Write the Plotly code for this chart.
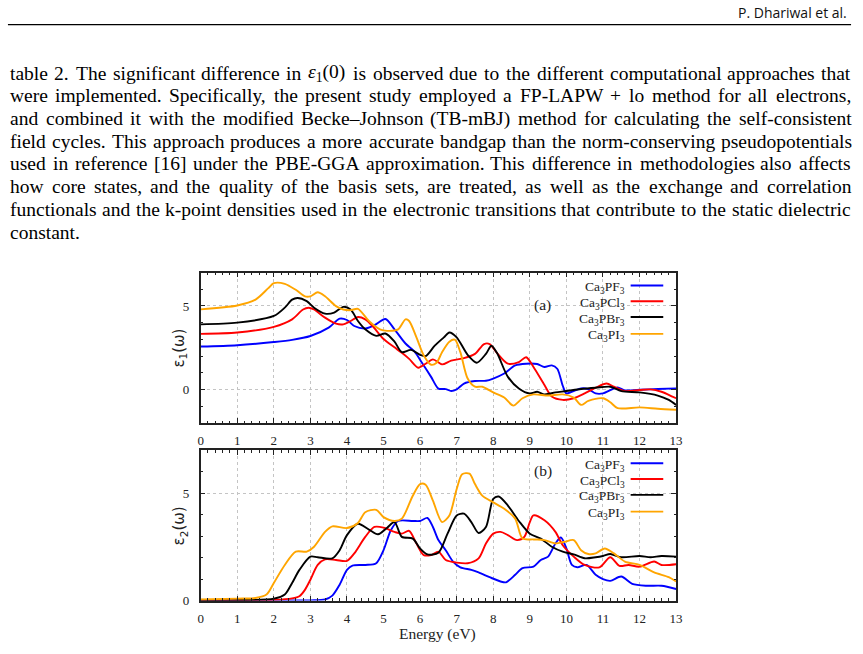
import plotly.graph_objects as go

FIG_W, FIG_H = 863, 654


def px(x):
    return x / FIG_W


def py(y):
    return 1 - y / FIG_H


# ---------------- data: epsilon_1 (panel a) ----------------
e1_E_PF3 = [0, 1, 2, 2.5, 3, 3.5, 3.8, 4.0, 4.2, 4.5, 4.75, 5.05, 5.3, 5.6, 5.85, 6.05, 6.3, 6.5, 6.7,
            6.85, 7.0, 7.2, 7.5, 7.8, 8.0, 8.3, 8.6, 8.9, 9.2, 9.4, 9.6, 9.75, 9.9, 10.0, 10.2, 10.4,
            10.6, 10.8, 11.0, 11.2, 11.4, 11.6, 12.0, 12.5, 13.0]
e1_PF3 = [2.57, 2.65, 2.84, 2.97, 3.2, 3.7, 4.24, 4.16, 3.8, 3.65, 3.85, 4.22, 3.6, 2.75, 2.27, 1.6,
          0.75, 0.05, 0.02, -0.1, 0.0, 0.35, 0.5, 0.52, 0.65, 0.95, 1.44, 1.54, 1.52, 1.34, 1.44, 1.24,
          0.22, -0.24, -0.1, 0.06, 0.02, -0.24, -0.24, -0.04, 0.12, -0.06, -0.02, 0.02, 0.06]

e1_E_PCl3 = [0, 1, 2, 2.5, 2.8, 2.95, 3.1, 3.4, 3.7, 3.9, 4.1, 4.3, 4.5, 4.7, 5.0, 5.3, 5.5, 5.7, 5.95,
             6.15, 6.35, 6.6, 6.85, 7.2, 7.5, 7.75, 7.9, 8.1, 8.4, 8.7, 8.9, 9.1, 9.4, 9.6, 9.9, 10.2,
             10.5, 10.8, 11.1, 11.3, 11.6, 12.0, 12.3, 12.6, 12.9, 13.0]
e1_PCl3 = [3.33, 3.41, 3.75, 4.2, 4.79, 4.89, 4.79, 4.3, 3.94, 3.9, 4.1, 4.34, 4.2, 3.8, 3.02, 2.52,
           2.19, 1.83, 1.3, 1.54, 1.8, 1.5, 1.73, 1.87, 2.13, 2.72, 2.72, 2.19, 1.54, 1.64, 1.93, 1.34,
           0.26, -0.43, -0.63, -0.53, -0.24, 0.1, 0.35, 0.16, -0.1, -0.04, 0.0, -0.14, -0.43, -0.53]

e1_E_PBr3 = [0, 1, 2, 2.3, 2.5, 2.65, 2.9, 3.1, 3.4, 3.65, 3.9, 4.1, 4.3, 4.5, 4.8, 5.05, 5.3, 5.5,
             5.75, 6.0, 6.15, 6.4, 6.65, 6.8, 7.0, 7.3, 7.55, 7.8, 7.95, 8.1, 8.4, 8.7, 9.0, 9.2, 9.4,
             9.7, 10.0, 10.4, 10.8, 11.2, 11.5, 12.0, 12.5, 12.8, 13.0]
e1_PBr3 = [3.9, 4.0, 4.4, 4.9, 5.38, 5.48, 5.29, 4.9, 4.54, 4.6, 4.95, 4.79, 4.1, 3.6, 3.21, 3.35, 2.86,
           2.23, 2.37, 2.07, 1.99, 2.62, 3.12, 3.41, 3.12, 2.07, 1.6, 2.13, 2.62, 2.19, 0.75, 0.06,
           -0.24, -0.14, -0.3, -0.18, -0.1, 0.02, 0.1, 0.16, -0.1, -0.18, -0.37, -0.63, -0.93]

e1_E_PI3 = [0, 1, 1.5, 1.85, 2.0, 2.3, 2.6, 2.85, 3.0, 3.2, 3.4, 3.7, 3.9, 4.1, 4.3, 4.6, 4.9, 5.1,
            5.4, 5.6, 5.7, 5.9, 6.1, 6.3, 6.45, 6.6, 6.8, 6.95, 7.1, 7.3, 7.5, 7.7, 8.0, 8.3, 8.55,
            8.8, 9.1, 9.5, 9.9, 10.2, 10.4, 10.6, 11.0, 11.2, 11.4, 12.0, 12.5, 13.0]
e1_PI3 = [4.8, 5.03, 5.38, 6.07, 6.37, 6.33, 5.97, 5.58, 5.58, 5.82, 5.58, 4.99, 4.79, 4.75, 4.83,
          4.1, 3.6, 3.51, 3.6, 4.2, 4.1, 3.12, 2.03, 1.48, 1.6, 2.23, 2.86, 2.98, 2.23, 0.65, 0.16,
          0.16, -0.18, -0.49, -0.97, -0.53, -0.3, -0.37, -0.3, -0.49, -0.93, -0.69, -0.53, -0.77,
          -1.12, -1.08, -1.16, -1.22]

# ---------------- data: epsilon_2 (panel b) ----------------
e2_E_PF3 = [0, 1, 2, 3, 3.4, 3.6, 3.8, 4.0, 4.15, 4.5, 4.8, 5.0, 5.2, 5.4, 5.8, 6.0, 6.2, 6.35, 6.5,
            6.7, 6.9, 7.1, 7.4, 7.6, 7.9, 8.2, 8.35, 8.6, 8.8, 9.1, 9.3, 9.5, 9.7, 9.85, 10.0, 10.15,
            10.3, 10.55, 10.8, 11.0, 11.2, 11.5, 11.8, 12.2, 12.6, 13.0]
e2_PF3 = [0.0, 0.0, 0.0, 0.01, 0.05, 0.23, 0.74, 1.43, 1.63, 1.66, 1.74, 2.35, 3.28, 3.71, 3.71, 3.71,
          3.85, 3.43, 2.82, 2.35, 1.82, 1.55, 1.43, 1.31, 1.09, 0.89, 0.85, 1.2, 1.51, 1.58, 1.89,
          2.05, 2.66, 2.94, 2.43, 1.66, 1.55, 1.66, 1.2, 1.0, 0.92, 1.12, 0.78, 0.69, 0.69, 0.54]

e2_E_PCl3 = [0, 1, 2, 2.5, 2.7, 2.85, 3.0, 3.2, 3.4, 3.7, 4.0, 4.2, 4.5, 4.75, 5.0, 5.3, 5.5, 5.7,
             5.9, 6.1, 6.3, 6.5, 6.7, 7.0, 7.3, 7.6, 7.8, 8.0, 8.2, 8.4, 8.65, 8.85, 9.0, 9.1, 9.4,
             9.7, 9.9, 10.2, 10.5, 10.9, 11.2, 11.45, 11.7, 12.0, 12.4, 12.6, 13.0]
e2_PCl3 = [0.0, 0.01, 0.03, 0.1, 0.2, 0.5, 0.97, 1.66, 1.92, 1.89, 1.85, 2.2, 2.97, 3.43, 3.4, 3.2,
           3.12, 3.25, 2.66, 2.12, 2.12, 2.28, 1.89, 1.77, 1.74, 1.97, 2.66, 3.12, 3.2, 3.05, 2.82,
           2.97, 3.66, 3.97, 3.74, 3.2, 2.58, 2.05, 1.66, 1.55, 2.02, 1.62, 1.66, 1.58, 1.82, 1.66,
           1.69]

e2_E_PBr3 = [0, 1, 2.0, 2.3, 2.5, 2.7, 3.0, 3.2, 3.6, 3.8, 4.0, 4.3, 4.6, 4.85, 5.1, 5.3, 5.5, 5.8,
             6.0, 6.2, 6.5, 6.75, 7.0, 7.2, 7.4, 7.6, 7.8, 8.0, 8.15, 8.4, 8.7, 9.0, 9.3, 9.6, 9.9,
             10.2, 10.5, 10.8, 11.0, 11.2, 11.5, 12.0, 12.3, 12.6, 13.0]
e2_PBr3 = [0.0, 0.02, 0.09, 0.28, 0.82, 1.43, 2.05, 2.02, 1.97, 2.35, 3.05, 3.58, 3.31, 3.09, 3.4,
           3.66, 2.97, 2.89, 2.43, 2.15, 2.23, 3.12, 3.97, 4.05, 3.66, 3.15, 3.43, 4.74, 4.85, 4.43,
           3.71, 3.12, 2.89, 2.51, 2.28, 2.15, 1.97, 2.02, 2.08, 2.17, 2.02, 2.08, 2.02, 2.08, 2.05]

e2_E_PI3 = [0, 1, 1.5, 1.8, 2.0, 2.3, 2.6, 2.9, 3.1, 3.4, 3.6, 4.0, 4.3, 4.5, 4.8, 5.0, 5.3, 5.5, 5.8,
            6.0, 6.15, 6.35, 6.6, 6.8, 7.0, 7.15, 7.35, 7.5, 7.7, 8.0, 8.3, 8.6, 8.8, 9.1, 9.4, 9.7,
            9.95, 10.2, 10.4, 10.6, 10.8, 11.05, 11.3, 11.6, 12.0, 12.4, 12.8, 13.0]
e2_PI3 = [0.05, 0.09, 0.12, 0.28, 0.82, 1.66, 2.28, 2.28, 2.51, 3.2, 3.46, 3.38, 3.62, 4.12, 4.23,
          3.89, 3.71, 3.82, 4.89, 5.43, 5.4, 4.66, 3.66, 3.97, 5.2, 5.89, 5.92, 5.43, 4.89, 4.58,
          4.28, 3.82, 2.89, 2.85, 2.82, 2.66, 2.74, 2.82, 2.35, 2.17, 2.2, 2.43, 2.2, 1.82, 1.66,
          1.31, 1.09, 0.89]

series_labels = ["Ca<sub>3</sub>PF<sub>3</sub>", "Ca<sub>3</sub>PCl<sub>3</sub>",
                 "Ca<sub>3</sub>PBr<sub>3</sub>", "Ca<sub>3</sub>PI<sub>3</sub>"]
series_colors = ["#0000ff", "#ff0000", "#000000", "#ffa500"]

panel_a = [(e1_E_PF3, e1_PF3), (e1_E_PCl3, e1_PCl3), (e1_E_PBr3, e1_PBr3), (e1_E_PI3, e1_PI3)]
panel_b = [(e2_E_PF3, e2_PF3), (e2_E_PCl3, e2_PCl3), (e2_E_PBr3, e2_PBr3), (e2_E_PI3, e2_PI3)]

x_ticks = list(range(0, 14))
y_ticks = [0, 5]

# ---------------- page text ----------------
header_text = "P. Dhariwal et al."
body_lines = [
    "table 2. The significant difference in ε1(0) is observed due to the different computational approaches that",
    "were implemented. Specifically, the present study employed a FP-LAPW + lo method for all electrons,",
    "and combined it with the modified Becke–Johnson (TB-mBJ) method for calculating the self-consistent",
    "field cycles. This approach produces a more accurate bandgap than the norm-conserving pseudopotentials",
    "used in reference [16] under the PBE-GGA approximation. This difference in methodologies also affects",
    "how core states, and the quality of the basis sets, are treated, as well as the exchange and correlation",
    "functionals and the k-point densities used in the electronic transitions that contribute to the static dielectric",
    "constant.",
]

fig = go.Figure()

for (ex, ev), lab, col in zip(panel_a, series_labels, series_colors):
    fig.add_trace(go.Scatter(x=ex, y=ev, mode="lines", name=lab, xaxis="x", yaxis="y",
                             line=dict(color=col, width=1.9, shape="spline", smoothing=0.8),
                             showlegend=False))
for (ex, ev), lab, col in zip(panel_b, series_labels, series_colors):
    fig.add_trace(go.Scatter(x=ex, y=ev, mode="lines", name=lab, xaxis="x2", yaxis="y2",
                             line=dict(color=col, width=1.9, shape="spline", smoothing=0.8),
                             showlegend=False))

TOP = (276, 428)
BOT = (456, 608)
LEFT, RIGHT = 200, 681

tickfont = dict(family="Liberation Serif", size=13, color="#222")


def xaxis(ybounds, anchor):
    return dict(domain=[px(LEFT), px(RIGHT)], anchor=anchor, range=[0, 13],
                tickmode="array", tickvals=x_ticks, ticks="inside", ticklen=5, tickwidth=1,
                tickcolor="#222", showline=True, linecolor="#222", linewidth=1.5, mirror="ticks",
                showgrid=True, gridcolor="#c4c4c4", griddash="dot", gridwidth=1, zeroline=False,
                tickfont=tickfont, ticklabelstandoff=5,
                minor=dict(ticks="inside", dtick=0.2, tick0=0, ticklen=2.5, tickcolor="#222",
                           showgrid=False))


def yaxis(ybounds, anchor, rng):
    return dict(domain=[py(ybounds[1]), py(ybounds[0])], anchor=anchor, range=rng,
                tickmode="array", tickvals=y_ticks, ticks="inside", ticklen=5, tickwidth=1,
                tickcolor="#222", showline=True, linecolor="#222", linewidth=1.5, mirror="ticks",
                showgrid=True, gridcolor="#c4c4c4", griddash="dot", gridwidth=1, zeroline=False,
                tickfont=tickfont, ticklabelstandoff=7,
                minor=dict(ticks="inside", dtick=1, tick0=0, ticklen=2.5, tickcolor="#222",
                           showgrid=False))


fig.update_layout(
    width=FIG_W, height=FIG_H, margin=dict(l=0, r=0, t=0, b=0),
    paper_bgcolor="white", plot_bgcolor="white", showlegend=False,
    xaxis=xaxis(TOP, "y"), yaxis=yaxis(TOP, "x", [-2, 7]),
    xaxis2=xaxis(BOT, "y2"), yaxis2=yaxis(BOT, "x2", [0, 7]),
)

annotations = []
shapes = []

# header
annotations.append(dict(text=header_text, x=px(855), y=py(13), xref="paper", yref="paper",
                        xanchor="right", yanchor="middle", showarrow=False, borderpad=0,
                        font=dict(family="Open Sans", size=14, color="#111")))
shapes.append(dict(type="line", xref="paper", yref="paper", x0=px(5), x1=px(858), y0=py(25), y1=py(25),
                   line=dict(color="black", width=1.3)))

# justified body text (Times / Liberation Serif advance widths, 1/1000 em)
TW = {' ': 250, ',': 250, '.': 250, '-': 333, '(': 333, ')': 333, '[': 333, ']': 333, '+': 564,
      '–': 500, ':': 278, ';': 278}
for ch in "0123456789":
    TW[ch] = 500
TW.update({'A': 722, 'B': 667, 'C': 667, 'D': 722, 'E': 611, 'F': 556, 'G': 722, 'H': 722, 'I': 333,
           'J': 389, 'K': 722, 'L': 611, 'M': 889, 'N': 722, 'O': 722, 'P': 556, 'Q': 722, 'R': 667,
           'S': 556, 'T': 611, 'U': 722, 'V': 722, 'W': 944, 'X': 722, 'Y': 722, 'Z': 611,
           'a': 444, 'b': 500, 'c': 444, 'd': 500, 'e': 444, 'f': 333, 'g': 500, 'h': 500, 'i': 278,
           'j': 278, 'k': 500, 'l': 278, 'm': 778, 'n': 500, 'o': 500, 'p': 500, 'q': 500, 'r': 333,
           's': 389, 't': 278, 'u': 500, 'v': 500, 'w': 722, 'x': 500, 'y': 500, 'z': 444})
SPECIAL = {"ε1(0)": ("<i>ε</i><sub>1</sub>(0)", 1950)}

BODY_SIZE = 19.5
BODY_X0, BODY_X1 = 7, 857
BODY_Y0, BODY_DY = 74, 23


def word_w(w):
    if w in SPECIAL:
        return SPECIAL[w][1] * BODY_SIZE / 1000
    return sum(TW.get(c, 500) for c in w) * BODY_SIZE / 1000


for i, line in enumerate(body_lines):
    yline = BODY_Y0 + i * BODY_DY
    words = line.split(" ")
    widths = [word_w(w) for w in words]
    if i < len(body_lines) - 1 and len(words) > 1:
        gap = (BODY_X1 - BODY_X0 - sum(widths)) / (len(words) - 1)
        gap = max(gap, 2.0)
    else:
        gap = 0.25 * BODY_SIZE
    xw = BODY_X0
    for w, wd in zip(words, widths):
        txt = SPECIAL[w][0] if w in SPECIAL else w
        annotations.append(dict(text=txt, x=px(xw), y=py(yline), xref="paper", yref="paper",
                                xanchor="left", yanchor="middle", showarrow=False, borderpad=0,
                                borderwidth=0,
                                font=dict(family="Liberation Serif", size=BODY_SIZE, color="#000")))
        xw += wd + gap

# axis titles
annotations.append(dict(text="ε<sub>1</sub>(ω)", x=px(179), y=py(352), xref="paper", yref="paper",
                        textangle=-90, showarrow=False, xanchor="center", yanchor="middle",
                        font=dict(family="DejaVu Sans", size=15, color="#222")))
annotations.append(dict(text="ε<sub>2</sub>(ω)", x=px(179), y=py(532), xref="paper", yref="paper",
                        textangle=-90, showarrow=False, xanchor="center", yanchor="middle",
                        font=dict(family="DejaVu Sans", size=15, color="#222")))
annotations.append(dict(text="Energy (eV)", x=px(440), y=py(642), xref="paper", yref="paper",
                        showarrow=False, xanchor="center", yanchor="middle", borderpad=0,
                        font=dict(family="Liberation Serif", size=15.5, color="#222")))

# panel tags
annotations.append(dict(text="(a)", x=px(546), y=py(309), xref="paper", yref="paper", showarrow=False,
                        font=dict(family="Liberation Serif", size=15.5, color="#222")))
annotations.append(dict(text="(b)", x=px(546), y=py(488), xref="paper", yref="paper", showarrow=False,
                        font=dict(family="Liberation Serif", size=15.5, color="#222")))

# keys (gnuplot style: label then line sample)
for ys, box in (([289, 305, 321, 338], (280, 346)), ([469, 485, 501, 518], (460, 527))):
    shapes.append(dict(type="rect", xref="paper", yref="paper", x0=px(572), x1=px(677),
                       y0=py(box[1]), y1=py(box[0]), fillcolor="white", line=dict(width=0),
                       layer="between"))
    for yk, lab, col in zip(ys, series_labels, series_colors):
        annotations.append(dict(text=lab, x=px(630), y=py(yk + 2), xref="paper", yref="paper",
                                xanchor="right", yanchor="middle", showarrow=False, borderpad=0,
                                font=dict(family="Liberation Serif", size=13.5, color="#222")))
        shapes.append(dict(type="line", xref="paper", yref="paper", x0=px(635), x1=px(668),
                           y0=py(yk), y1=py(yk), line=dict(color=col, width=1.9)))

fig.update_layout(annotations=annotations, shapes=shapes)
fig.write_html("out.html")
